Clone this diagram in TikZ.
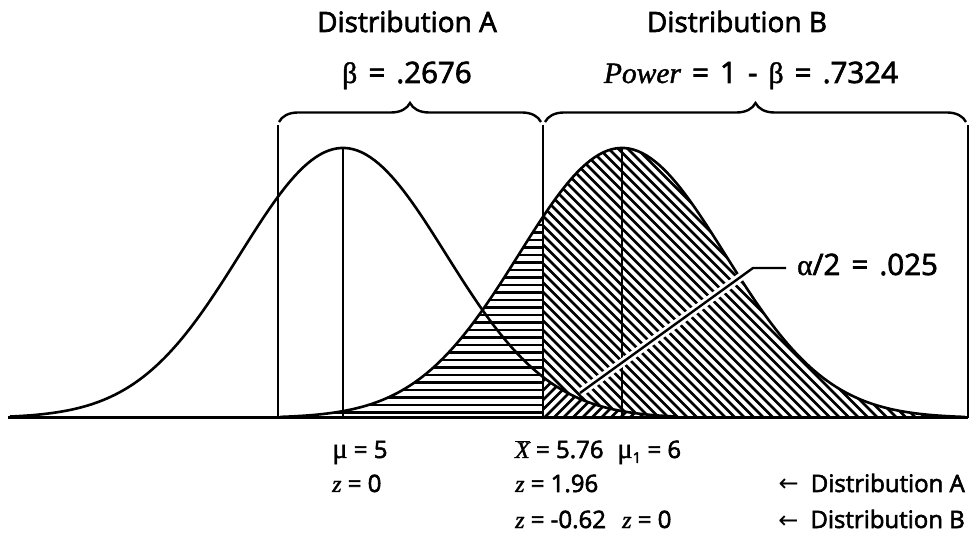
\documentclass[tikz,border=0pt]{standalone}
\usepackage{fontspec}
\setmainfont{Open Sans}[FakeBold=2.4]
\newfontfamily\grk{Liberation Serif}[FakeBold=1.4]
\newfontfamily\bgrk{Liberation Serif}[FakeBold=1.4,Scale=1.2]
\newfontfamily\dv{DejaVu Sans}
\newfontfamily\formf{Open Sans}[FakeBold=2.4,WordSpace=1.45]
\usetikzlibrary{decorations.pathreplacing}
\begin{document}
\begin{tikzpicture}[x=1pt,y=-1pt,
  declare function={fa(\x)=418-270*exp(-0.5*((\x-343)/103)^2);
                    fb(\x)=418-270*exp(-0.5*((\x-622)/103)^2);},
  curve/.style={line width=2.6pt, line join=round},
  vline/.style={line width=2.4pt},
  hatch/.style={line width=2.8pt},
  bracestyle/.style={decorate, decoration={brace, amplitude=19pt}, line width=2.4pt},
  toplab/.style={font=\fontsize{28}{30}\selectfont, anchor=base, inner sep=0pt},
  formlab/.style={font=\formf\fontsize{29.5}{31}\selectfont, anchor=base, inner sep=0pt},
  botlab/.style={font=\fontsize{24}{26}\selectfont, anchor=base west, inner sep=0pt},
]
\useasboundingbox (0,0) rectangle (975,534);

% beta region: horizontal hatching
\begin{scope}
\clip plot[domain=280:543, samples=60] (\x,{fb(\x)}) -- (543,418) -- (280,418) -- cycle;
\foreach \y in {150,157.5,...,420} \draw[hatch] (270,\y) -- (550,\y);
\end{scope}

% power region above curve A
\begin{scope}
\clip plot[domain=543:965, samples=100] (\x,{fb(\x)}) -- (965,418) -- (676,418)
      -- plot[domain=676:543, samples=60] (\x,{fa(\x)}) -- cycle;
\foreach \i in {-33,...,48} \draw[hatch] ({543+9.5*\i},140) -- ({543+9.5*\i+290},430);
\end{scope}

% alpha/2 tail region
\begin{scope}
\clip plot[domain=543:676, samples=60] (\x,{fa(\x)}) -- (543,418) -- cycle;
\foreach \i in {0,...,23} \draw[hatch] ({475+9.5*\i},430) -- ({475+9.5*\i+100},330);
\end{scope}

% curves
\draw[curve] plot[domain=10:676, samples=160] (\x,{fa(\x)});
\draw[curve] plot[domain=280:965, samples=160] (\x,{fb(\x)});

% vertical lines
\draw[vline] (278,125) -- (278,418);
\draw[vline] (343,148) -- (343,418);
\draw[vline] (543,125) -- (543,418);
\draw[vline] (622,148) -- (622,418);
\draw[vline] (968,125) -- (968,418);

% baseline
\draw[line width=3pt] (8,418) -- (968,418);

% braces
\draw[bracestyle] (279,122) -- (541,122);
\draw[bracestyle] (545,122) -- (966,122);

% pointer
\coordinate (ptip) at (580,393);
\coordinate (pknee) at (753,268);
\coordinate (pend) at (786,268);
\draw[white, line width=8pt] (ptip) -- (pknee);
\draw[line width=2.4pt] (ptip) -- (pknee) -- (pend);

% labels
\node[toplab] (dA) at (407,32) {Distribution A};
\node[toplab] (dB) at (737,32) {Distribution B};
\node[formlab] (beta) at (407,83) {{\grk β} = .2676};
\node[formlab] (power) at (751,83) {{\grk\itshape Power} = 1 - {\grk β} = .7324};
\node[font=\formf\fontsize{29.5}{31}\selectfont, anchor=base west, inner sep=0pt] (alpha) at (797,275) {{\grk α}/2 = .025};

\node[botlab] (mu) at (332,458) {{\bgrk μ} = 5};
\node[botlab] (z0) at (332,492) {{\grk\itshape z} = 0};
\node[botlab] (xbar) at (515,458) {$\overline{\hbox{\grk\itshape X}}$ = 5.76};
\node[botlab] (mu1) at (617,458) {{\bgrk μ}\raisebox{-5pt}{\fontsize{15}{15}\selectfont 1} = 6};
\node[botlab] (z196) at (515,492) {{\grk\itshape z} = 1.96};
\node[botlab] (z062) at (515,528) {{\grk\itshape z} = -0.62};
\node[botlab] (zb0) at (622,528) {{\grk\itshape z} = 0};
\node[botlab, anchor=base east] (arA) at (965,492) {{\dv ←}\enspace Distribution A};
\node[botlab, anchor=base east] (arB) at (965,528) {{\dv ←}\enspace Distribution B};
\end{tikzpicture}
\end{document}
